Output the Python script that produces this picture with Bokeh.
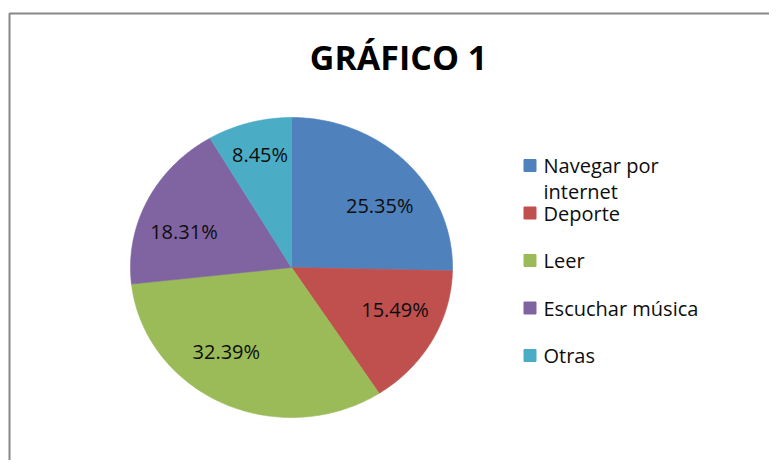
import numpy as np
from bokeh.plotting import figure
from bokeh.models import Range1d, ColumnDataSource
from bokeh.embed import file_html
from bokeh.resources import INLINE
from bokeh.core.properties import value

# ---------------- data ----------------
title_text = "GRÁFICO 1"
categories = ["Navegar por internet", "Deporte", "Leer", "Escuchar música", "Otras"]
legend_lines = [["Navegar por", "internet"], ["Deporte"], ["Leer"], ["Escuchar música"], ["Otras"]]
percentages = [25.35, 15.49, 32.39, 18.31, 8.45]
colors = ["#4F81BD", "#C0504D", "#9BBB59", "#8064A2", "#4BACC6"]

# ---------------- layout (pixel units, y grows downward) ----------------
W, H = 769, 460
CX, CY = 291, 267          # pie centre
RX, RY = 161, 150          # pie radii (slightly stretched horizontally, as in reference)
label_frac = [0.686, 0.70, 0.693, 0.709, 0.78]     # radial placement of labels
label_nudge = [7.4, -5.8, 10.4, -7.1, 0.7]          # degrees, best-fit style offsets
FONT = "Open Sans"

p = figure(width=W, height=H, x_range=Range1d(0, W), y_range=Range1d(H, 0),
           output_backend="svg", toolbar_location=None, min_border=0,
           x_axis_location=None, y_axis_location=None)
p.grid.visible = False
p.outline_line_color = None
p.background_fill_color = "white"
p.border_fill_color = "white"

# chart-area border (top and left edges visible in reference)
p.line([9, 9, W], [H, 13, 13], line_color="#878787", line_width=2)

# ---------------- pie slices ----------------
vals = np.array(percentages, dtype=float)
fr = vals / vals.sum()
ends = np.cumsum(fr)
starts = ends - fr
xs, ys = [], []
for s, e in zip(starts, ends):
    th = np.linspace(s, e, 120) * 2 * np.pi
    xs.append(np.concatenate([[CX], CX + RX * np.sin(th)]).tolist())
    ys.append(np.concatenate([[CY], CY - RY * np.cos(th)]).tolist())
src = ColumnDataSource(dict(xs=xs, ys=ys, color=colors, cat=categories, pct=percentages))
p.patches("xs", "ys", source=src, fill_color="color", line_color="color", line_width=0.6)

# ---------------- percentage labels ----------------
mids = (starts + ends) / 2 * 360 + np.array(label_nudge)
rad = np.radians(mids)
lx = CX + np.array(label_frac) * RX * np.sin(rad)
ly = CY - np.array(label_frac) * RY * np.cos(rad)
LABEL_PX = 20
lab_src = ColumnDataSource(dict(x=lx, y=ly, text=[f"{v:.2f}%" for v in percentages]))
p.text("x", "y", "text", source=lab_src, text_font=value(FONT),
       text_font_size=f"{LABEL_PX}px", text_color="#0d0d0d",
       text_align="center", text_baseline="middle")

# ---------------- title ----------------
p.text(x=[398], y=[56], text=[title_text], text_font=value(FONT),
       text_font_size="34px", text_font_style="bold", text_color="#000000",
       text_align="center", text_baseline="middle")

# ---------------- legend ----------------
LEG_X, LEG_Y0, LEG_STEP, LINE_H, LEG_PX = 529.5, 165, 47.5, 26, 20
mk_x, mk_y, tx, ty, tt = [], [], [], [], []
for i, lines in enumerate(legend_lines):
    yc = LEG_Y0 + i * LEG_STEP
    mk_x.append(LEG_X)
    mk_y.append(yc)
    for j, line in enumerate(lines):
        tx.append(LEG_X + 13.5)
        ty.append(yc + j * LINE_H)
        tt.append(line)
p.rect(mk_x, mk_y, width=12, height=12, fill_color=colors, line_color=colors)
p.text(tx, ty, text=tt, text_font=value(FONT), text_font_size=f"{LEG_PX}px",
       text_color="#0d0d0d", text_align="left", text_baseline="middle")

open("out.html", "w").write(file_html(p, INLINE))
